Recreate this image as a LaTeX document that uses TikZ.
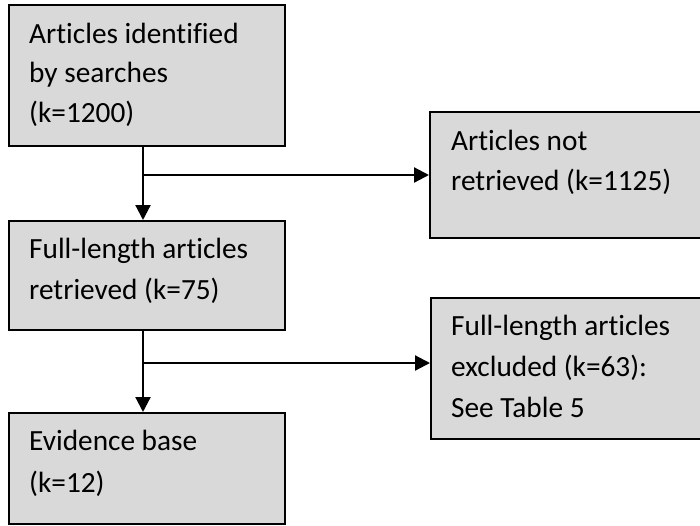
\documentclass[tikz,border=0pt]{standalone}
\usepackage{fontspec}
\setmainfont{Carlito}[Ligatures={NoCommon}]
\usetikzlibrary{arrows.meta}
\definecolor{boxgray}{HTML}{D9D9D9}
\tikzset{
  box/.style={draw=black, line width=2pt, fill=boxgray, inner sep=0pt},
  txt/.style={anchor=base west, inner sep=0pt, align=left,
    font=\fontsize{29.3}{#1}\selectfont},
  txt/.default=40,
  flow/.style={line width=2.2pt, -{Triangle[length=15pt,width=15pt]}}
}
\begin{document}
\begin{tikzpicture}[x=1pt,y=-1pt]
\useasboundingbox (0,0) rectangle (700,525);
% boxes
\node[box, anchor=north west, minimum width=276pt, minimum height=141pt] (b1) at (8,4) {};
\node[box, anchor=north west, minimum width=276pt, minimum height=109pt] (b3) at (8,220) {};
\node[box, anchor=north west, minimum width=276pt, minimum height=111pt] (b5) at (8,412) {};
\node[box, anchor=north west, minimum width=290pt, minimum height=126pt] (b2) at (429,111) {};
\node[box, anchor=north west, minimum width=290pt, minimum height=141pt] (b4) at (430,297) {};
% texts (anchored at the baseline of the last line)
\node[txt=39.5] (t1) at (29,122) {Articles identified\\by searches\\(k=1200)};
\node[txt=41] (t3) at (29,299) {Full-length articles\\retrieved (k=75)};
\node[txt=42] (t5) at (29,492) {Evidence base\\(k=12)};
\node[txt=40] (t2) at (451,190) {Articles not\\retrieved (k=1125)};
\node[txt=41] (t4) at (451,417) {Full-length articles\\excluded (k=63):\\See Table 5};
% connectors
\coordinate (j1) at (143,175);
\coordinate (j2) at (143,363);
\draw[flow] (b1.south -| j1) -- (b3.north -| j1);
\draw[flow] (j1) -- (j1 -| b2.west);
\draw[flow] (b3.south -| j2) -- (b5.north -| j2);
\draw[flow] (j2) -- (j2 -| b4.west);
\end{tikzpicture}
\end{document}
